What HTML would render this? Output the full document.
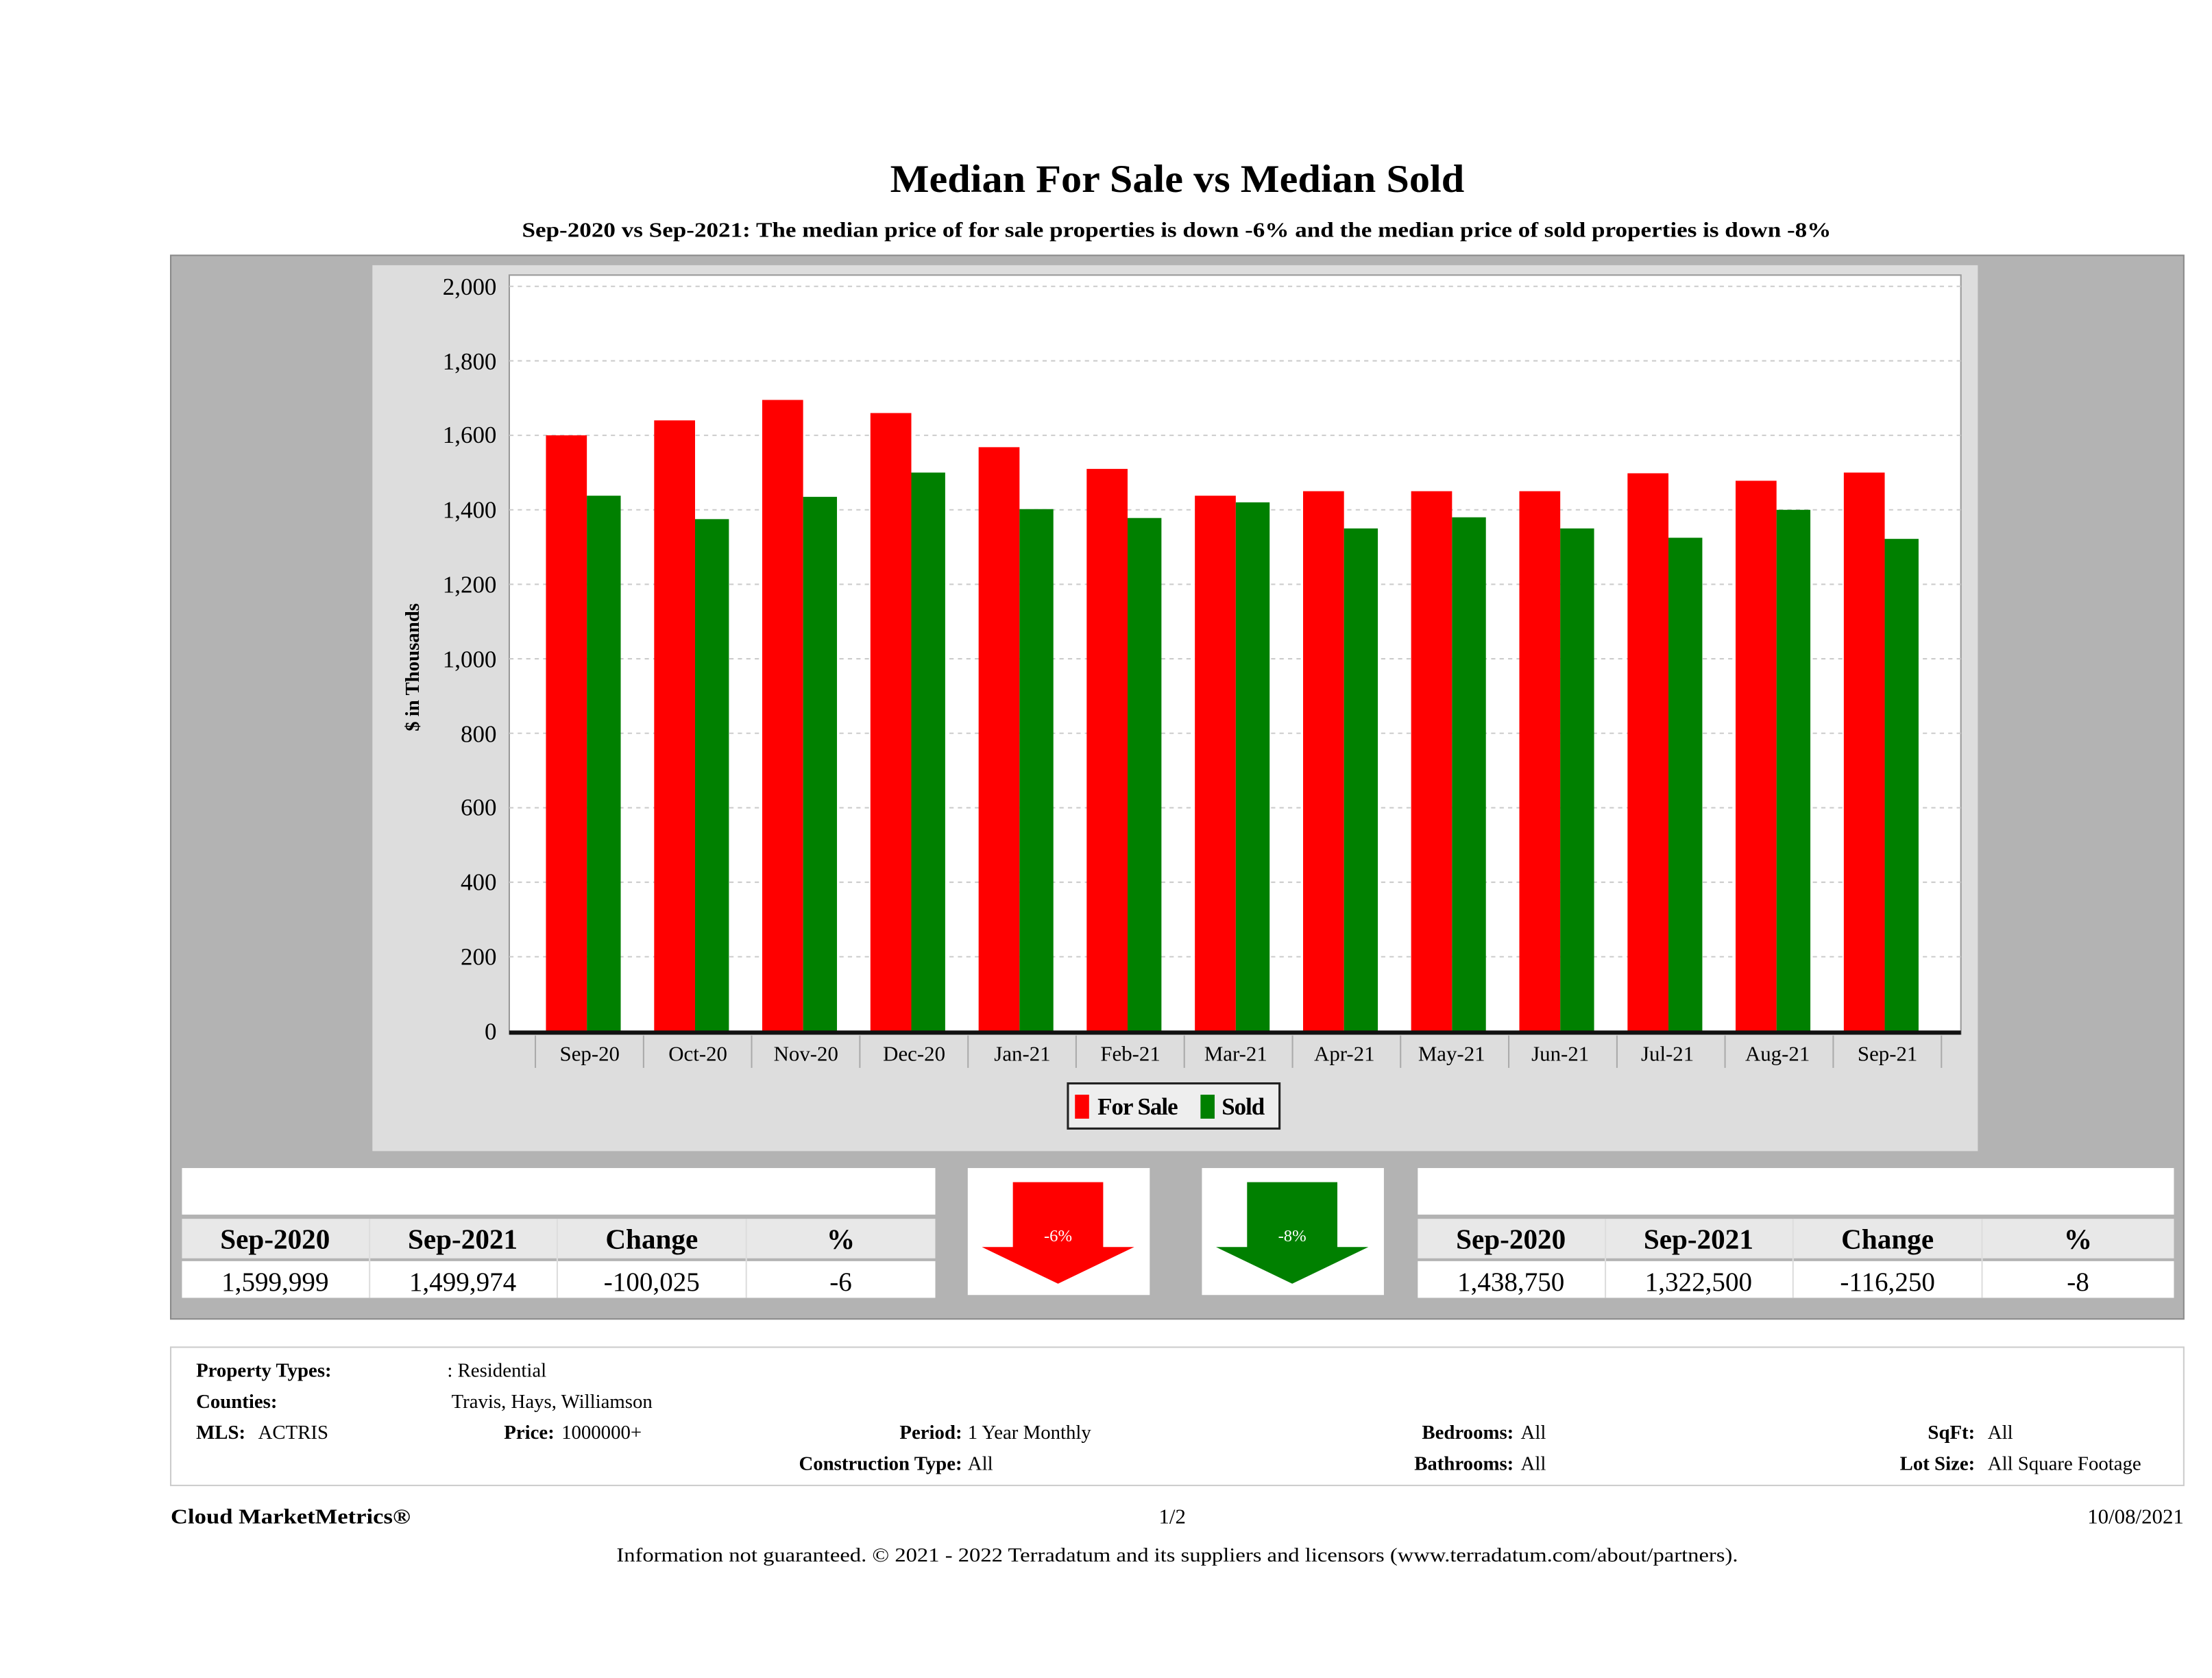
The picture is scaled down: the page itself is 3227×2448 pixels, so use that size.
<!DOCTYPE html>
<html><head><meta charset="utf-8"><style>html,body{margin:0;padding:0;background:#fff}svg{display:block}</style></head>
<body>
<svg width="3227" height="2448" viewBox="0 0 1568 1189.5" preserveAspectRatio="none" xmlns="http://www.w3.org/2000/svg" font-family="'Liberation Serif', serif">
<text x="631" y="136" font-size="28" font-weight="bold" textLength="407" lengthAdjust="spacingAndGlyphs">Median For Sale vs Median Sold</text>
<text x="370" y="168" font-size="15" font-weight="bold" textLength="928" lengthAdjust="spacingAndGlyphs">Sep-2020 vs Sep-2021: The median price of for sale properties is down -6% and the median price of sold properties is down -8%</text>
<rect x="121" y="181" width="1427" height="754" fill="#b3b3b3" stroke="#8a8a8a"/>
<rect x="264" y="188" width="1138" height="628" fill="#dddddd"/>
<rect x="361" y="195" width="1029" height="538" fill="#fff" stroke="#999"/>
<g stroke="#ccc" stroke-dasharray="3,3" stroke-width="1">
<line x1="361" x2="1390" y1="203" y2="203"/><line x1="361" x2="1390" y1="255.8" y2="255.8"/><line x1="361" x2="1390" y1="308.6" y2="308.6"/><line x1="361" x2="1390" y1="361.4" y2="361.4"/><line x1="361" x2="1390" y1="414.2" y2="414.2"/><line x1="361" x2="1390" y1="467" y2="467"/><line x1="361" x2="1390" y1="519.8" y2="519.8"/><line x1="361" x2="1390" y1="572.6" y2="572.6"/><line x1="361" x2="1390" y1="625.4" y2="625.4"/><line x1="361" x2="1390" y1="678.2" y2="678.2"/>
</g>
<g font-size="17" text-anchor="end">
<text x="352" y="209">2,000</text><text x="352" y="262">1,800</text><text x="352" y="314">1,600</text><text x="352" y="367">1,400</text><text x="352" y="420">1,200</text><text x="352" y="473">1,000</text><text x="352" y="526">800</text><text x="352" y="578">600</text><text x="352" y="631">400</text><text x="352" y="684">200</text><text x="352" y="737">0</text>
</g>
<text transform="translate(297,473) rotate(-90)" font-size="14" font-weight="bold" text-anchor="middle">$ in Thousands</text>
<g fill="#ff0000">
<rect x="387" y="308.6" width="29" height="422.4"/><rect x="463.7" y="298" width="29" height="433"/><rect x="540.3" y="283.5" width="29" height="447.5"/><rect x="617" y="292.8" width="29" height="438.2"/><rect x="693.7" y="317" width="29" height="414"/><rect x="770.3" y="332.4" width="29" height="398.6"/><rect x="847" y="351.4" width="29" height="379.6"/><rect x="923.7" y="348.2" width="29" height="382.8"/><rect x="1000.3" y="348.2" width="29" height="382.8"/><rect x="1077" y="348.2" width="29" height="382.8"/><rect x="1153.7" y="335.5" width="29" height="395.5"/><rect x="1230.3" y="340.8" width="29" height="390.2"/><rect x="1307" y="335" width="29" height="396"/>
</g>
<g fill="#008000">
<rect x="416" y="351.4" width="24" height="379.6"/><rect x="492.7" y="368" width="24" height="363"/><rect x="569.3" y="352.2" width="24" height="378.8"/><rect x="646" y="335" width="24" height="396"/><rect x="722.7" y="360.9" width="24" height="370.1"/><rect x="799.3" y="367.2" width="24" height="363.8"/><rect x="876" y="356.1" width="24" height="374.9"/><rect x="952.7" y="374.6" width="24" height="356.4"/><rect x="1029.3" y="366.7" width="24" height="364.3"/><rect x="1106" y="374.6" width="24" height="356.4"/><rect x="1182.7" y="381.2" width="24" height="349.8"/><rect x="1259.3" y="361.4" width="24" height="369.6"/><rect x="1336" y="382" width="24" height="349"/>
</g>
<line x1="361" x2="1390" y1="732" y2="732" stroke="#111" stroke-width="3"/>
<g stroke="#aaa" stroke-width="1">
<line x1="379.5" x2="379.5" y1="734" y2="757"/><line x1="456.2" x2="456.2" y1="734" y2="757"/><line x1="532.8" x2="532.8" y1="734" y2="757"/><line x1="609.5" x2="609.5" y1="734" y2="757"/><line x1="686.2" x2="686.2" y1="734" y2="757"/><line x1="762.8" x2="762.8" y1="734" y2="757"/><line x1="839.5" x2="839.5" y1="734" y2="757"/><line x1="916.2" x2="916.2" y1="734" y2="757"/><line x1="992.8" x2="992.8" y1="734" y2="757"/><line x1="1069.5" x2="1069.5" y1="734" y2="757"/><line x1="1146.2" x2="1146.2" y1="734" y2="757"/><line x1="1222.8" x2="1222.8" y1="734" y2="757"/><line x1="1299.5" x2="1299.5" y1="734" y2="757"/><line x1="1376.2" x2="1376.2" y1="734" y2="757"/>
</g>
<g font-size="15" text-anchor="middle">
<text x="418" y="752">Sep-20</text><text x="494.7" y="752">Oct-20</text><text x="571.3" y="752">Nov-20</text><text x="648" y="752">Dec-20</text><text x="724.7" y="752">Jan-21</text><text x="801.3" y="752">Feb-21</text><text x="876" y="752">Mar-21</text><text x="953" y="752">Apr-21</text><text x="1029" y="752">May-21</text><text x="1106" y="752">Jun-21</text><text x="1182" y="752">Jul-21</text><text x="1260" y="752">Aug-21</text><text x="1338" y="752">Sep-21</text>
</g>
<rect x="757" y="768" width="150" height="32" fill="#eeeeee" stroke="#222" stroke-width="1.5"/>
<rect x="762" y="776" width="10" height="17" fill="#ff0000"/>
<text x="778" y="790" font-size="17" font-weight="bold" letter-spacing="-0.5">For Sale</text>
<rect x="851" y="776" width="10" height="17" fill="#008000"/>
<text x="866" y="790" font-size="17" font-weight="bold" letter-spacing="-0.5">Sold</text>
<rect x="129" y="828" width="534" height="33" fill="#fff"/>
<rect x="129" y="864" width="534" height="28" fill="#e8e8e8"/>
<rect x="129" y="894" width="534" height="26" fill="#fff"/>
<g stroke="#ddd"><line x1="262" x2="262" y1="864" y2="920"/><line x1="395" x2="395" y1="864" y2="920"/><line x1="529" x2="529" y1="864" y2="920"/></g>
<g font-size="20" font-weight="bold" text-anchor="middle"><text x="195" y="885">Sep-2020</text><text x="328" y="885">Sep-2021</text><text x="462" y="885">Change</text><text x="596" y="885">%</text></g>
<g font-size="19" text-anchor="middle"><text x="195" y="915">1,599,999</text><text x="328" y="915">1,499,974</text><text x="462" y="915">-100,025</text><text x="596" y="915">-6</text></g>
<rect x="686" y="828" width="129" height="90" fill="#fff"/>
<polygon points="718,838 782,838 782,884 804,884 750,910 696,884 718,884" fill="#ff0000"/>
<text x="750" y="880" font-size="12" fill="#fff" text-anchor="middle">-6%</text>
<rect x="852" y="828" width="129" height="90" fill="#fff"/>
<polygon points="884,838 948,838 948,884 970,884 916,910 862,884 884,884" fill="#008000"/>
<text x="916" y="880" font-size="12" fill="#fff" text-anchor="middle">-8%</text>
<rect x="1005" y="828" width="536" height="33" fill="#fff"/>
<rect x="1005" y="864" width="536" height="28" fill="#e8e8e8"/>
<rect x="1005" y="894" width="536" height="26" fill="#fff"/>
<g stroke="#ddd"><line x1="1138" x2="1138" y1="864" y2="920"/><line x1="1271" x2="1271" y1="864" y2="920"/><line x1="1405" x2="1405" y1="864" y2="920"/></g>
<g font-size="20" font-weight="bold" text-anchor="middle"><text x="1071" y="885">Sep-2020</text><text x="1204" y="885">Sep-2021</text><text x="1338" y="885">Change</text><text x="1473" y="885">%</text></g>
<g font-size="19" text-anchor="middle"><text x="1071" y="915">1,438,750</text><text x="1204" y="915">1,322,500</text><text x="1338" y="915">-116,250</text><text x="1473" y="915">-8</text></g>
<rect x="121" y="955" width="1427" height="98" fill="#fff" stroke="#ccc"/>
<g font-size="14">
<text x="139" y="976" font-weight="bold">Property Types:</text><text x="317" y="976">: Residential</text>
<text x="139" y="998" font-weight="bold">Counties:</text><text x="320" y="998">Travis, Hays, Williamson</text>
<text x="139" y="1020" font-weight="bold">MLS:</text><text x="183" y="1020">ACTRIS</text>
<text x="393" y="1020" font-weight="bold" text-anchor="end">Price:</text><text x="398" y="1020">1000000+</text>
<text x="682" y="1020" font-weight="bold" text-anchor="end">Period:</text><text x="686" y="1020">1 Year Monthly</text>
<text x="1073" y="1020" font-weight="bold" text-anchor="end">Bedrooms:</text><text x="1078" y="1020">All</text>
<text x="1400" y="1020" font-weight="bold" text-anchor="end">SqFt:</text><text x="1409" y="1020">All</text>
<text x="682" y="1042" font-weight="bold" text-anchor="end">Construction Type:</text><text x="686" y="1042">All</text>
<text x="1073" y="1042" font-weight="bold" text-anchor="end">Bathrooms:</text><text x="1078" y="1042">All</text>
<text x="1400" y="1042" font-weight="bold" text-anchor="end">Lot Size:</text><text x="1409" y="1042">All Square Footage</text>
</g>
<text x="121" y="1080" font-size="15" font-weight="bold" textLength="170" lengthAdjust="spacingAndGlyphs">Cloud MarketMetrics®</text>
<text x="831" y="1080" font-size="15" text-anchor="middle">1/2</text>
<text x="1548" y="1080" font-size="15" text-anchor="end">10/08/2021</text>
<text x="437" y="1107" font-size="14" textLength="795" lengthAdjust="spacingAndGlyphs">Information not guaranteed. © 2021 - 2022 Terradatum and its suppliers and licensors (www.terradatum.com/about/partners).</text>
</svg>
</body></html>
